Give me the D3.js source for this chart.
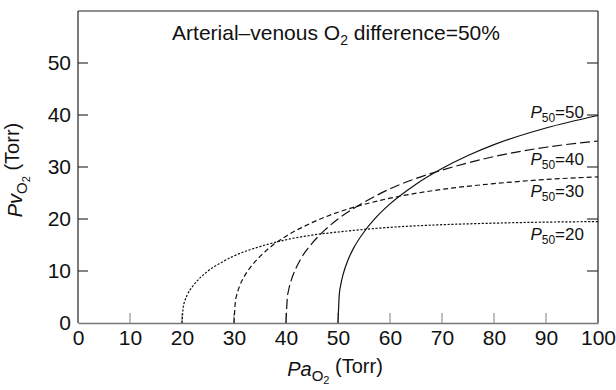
<!DOCTYPE html>
<html><head><meta charset="utf-8">
<script src="https://cdn.jsdelivr.net/npm/d3@7/dist/d3.min.js"></script>
<style>
html,body{margin:0;padding:0;background:#fff;}
svg{display:block;font-family:"Liberation Sans",Arial,Helvetica,sans-serif;}
</style></head><body>
<svg id="chart" width="616" height="390"></svg>
<script>
// ---- data ----
const xTicks = [0,10,20,30,40,50,60,70,80,90,100];
const yTicks = [0,10,20,30,40,50];
const p50Values = [20,30,40,50];

const pa20 = [20,20.25,20.5,21,22,23,25,27.5,30,35,40,45,50,60,70,80,90,100];
const pv20 = [0,3.1,4.1,5.4,7.0,8.2,10.0,11.6,12.9,14.7,16.0,16.9,17.5,18.4,18.9,19.2,19.4,19.5];

const pa30 = [30,30.25,30.5,31,32,33,35,37.5,40,45,50,55,60,70,80,90,100];
const pv30 = [0,4.0,5.3,6.9,9.0,10.5,12.8,15.0,16.7,19.3,21.3,22.8,24.0,25.7,26.8,27.6,28.1];

const pa40 = [40,40.25,40.5,41,42,43,45,47.5,50,55,60,65,70,80,90,100];
const pv40 = [0,4.8,6.3,8.2,10.7,12.6,15.3,17.9,20.0,23.2,25.8,27.8,29.4,32.0,33.8,35.0];

const pa50 = [50,50.25,50.5,51,52,53,55,57.5,60,65,70,75,80,90,100];
const pv50 = [0,5.5,7.2,9.4,12.3,14.4,17.5,20.5,22.9,26.7,29.7,32.2,34.3,37.5,39.9];

// label anchor positions (data units)
const labelX = 97.3;
const labelY = [16.0, 24.2, 30.4, 39.4];

// ---- layout ----
const svg = d3.select("#chart");
const L = 78, R = 598, T = 11, B = 323;
const x = d3.scaleLinear().domain([0,100]).range([L,R]);
const y = d3.scaleLinear().domain([0,60]).range([B,T]);

const series = [
  {p:20, pa:pa20, pv:pv20, dash:"2.2,1.6"},
  {p:30, pa:pa30, pv:pv30, dash:"5,3"},
  {p:40, pa:pa40, pv:pv40, dash:"10,4"},
  {p:50, pa:pa50, pv:pv50, dash:null}
];

// frame: top, left, right in dark; bottom gray
svg.append("line").attr("x1",L).attr("x2",R).attr("y1",T).attr("y2",T)
  .attr("stroke","#222").attr("stroke-width",1.2);
svg.append("line").attr("x1",L).attr("x2",L).attr("y1",T).attr("y2",B)
  .attr("stroke","#222").attr("stroke-width",1.2);
svg.append("line").attr("x1",R).attr("x2",R).attr("y1",T).attr("y2",B)
  .attr("stroke","#222").attr("stroke-width",1.2);

// left axis
const yAxis = d3.axisLeft(y).tickValues(yTicks).tickSize(0).tickPadding(7);
const gy = svg.append("g").attr("transform",`translate(${L},0)`).call(yAxis);
gy.select(".domain").remove();
gy.selectAll("text").attr("font-size",21).attr("fill","#111")
  .attr("font-family","Liberation Sans, Arial, sans-serif");
// inward ticks left & right
svg.append("g").selectAll("line").data(yTicks.filter(d=>d>0)).join("line")
  .attr("x1",L).attr("x2",L+10).attr("y1",d=>y(d)).attr("y2",d=>y(d))
  .attr("stroke","#222").attr("stroke-width",1.1);
svg.append("g").selectAll("line").data(yTicks.filter(d=>d>0)).join("line")
  .attr("x1",R-11).attr("x2",R).attr("y1",d=>y(d)).attr("y2",d=>y(d))
  .attr("stroke","#222").attr("stroke-width",1.1);

// bottom axis
const xAxis = d3.axisBottom(x).tickValues(xTicks).tickSize(0).tickPadding(7);
const gx = svg.append("g").attr("transform",`translate(0,${B})`).call(xAxis);
gx.select(".domain").attr("stroke","#777").attr("stroke-width",1.6);
gx.selectAll("text").attr("font-size",21).attr("fill","#111")
  .attr("font-family","Liberation Sans, Arial, sans-serif");
svg.append("g").selectAll("line").data(xTicks.filter(d=>d>0&&d<100)).join("line")
  .attr("x1",d=>x(d)).attr("x2",d=>x(d)).attr("y1",B).attr("y2",B-10)
  .attr("stroke","#888").attr("stroke-width",1.1);

// curves
const line = d3.line().x(d=>x(d[0])).y(d=>y(d[1])).curve(d3.curveMonotoneX);
series.forEach(s=>{
  const pts = s.pa.map((a,i)=>[a,s.pv[i]]);
  svg.append("path").attr("d",line(pts)).attr("fill","none")
    .attr("stroke","#111").attr("stroke-width",1.2)
    .attr("stroke-dasharray",s.dash);
});

// curve labels
series.forEach((s,i)=>{
  const t = svg.append("text").attr("x",x(labelX)).attr("y",y(labelY[i]))
    .attr("text-anchor","end").attr("font-size",17).attr("fill","#111");
  t.append("tspan").attr("font-style","italic").text("P");
  t.append("tspan").attr("font-size",12).attr("dy","0.35em").text("50");
  t.append("tspan").attr("dy","-0.25em").text("=" + s.p);
});

// title
const title = svg.append("text").attr("x",336).attr("y",40)
  .attr("text-anchor","middle").attr("font-size",21).attr("fill","#111");
title.append("tspan").text("Arterial\u2013venous O");
title.append("tspan").attr("font-size",14).attr("dy","0.35em").text("2");
title.append("tspan").attr("dy","-0.23em").text(" difference=50%");

// x label
const xl = svg.append("text").attr("x",335).attr("y",376)
  .attr("text-anchor","middle").attr("font-size",20).attr("fill","#111");
xl.append("tspan").attr("font-style","italic").text("Pa");
xl.append("tspan").attr("font-size",15).attr("dy","0.3em").text("O");
xl.append("tspan").attr("font-size",11).attr("dy","0.3em").text("2");
xl.append("tspan").attr("dy","-0.55em").text(" (Torr)");

// y label
const yl = svg.append("text").attr("transform",`translate(22,170) rotate(-90)`)
  .attr("text-anchor","middle").attr("font-size",20).attr("fill","#111");
yl.append("tspan").attr("font-style","italic").text("Pv");
yl.append("tspan").attr("font-size",15).attr("dy","0.3em").text("O");
yl.append("tspan").attr("font-size",11).attr("dy","0.3em").text("2");
yl.append("tspan").attr("dy","-0.55em").text(" (Torr)");
</script>
</body></html>
